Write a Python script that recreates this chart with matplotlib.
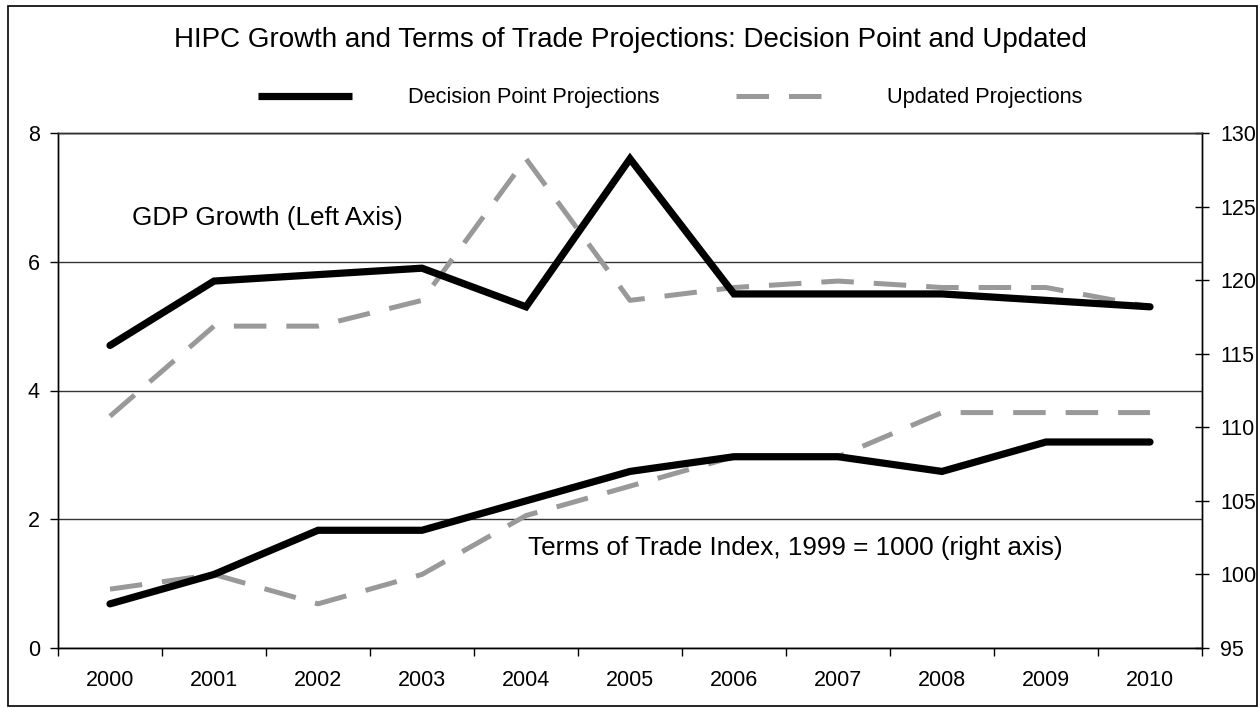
import numpy as np
import matplotlib
matplotlib.use('Agg')
import matplotlib.pyplot as plt
from matplotlib.patches import Rectangle

plt.rcParams['font.family'] = ['Liberation Sans', 'DejaVu Sans']

years = ['2000', '2001', '2002', '2003', '2004', '2005',
         '2006', '2007', '2008', '2009', '2010']

# GDP growth, left axis
gdp_decision = [4.7, 5.7, 5.8, 5.9, 5.3, 7.6, 5.5, 5.5, 5.5, 5.4, 5.3]
gdp_updated = [3.6, 5.0, 5.0, 5.4, 7.6, 5.4, 5.6, 5.7, 5.6, 5.6, 5.3]

# terms of trade index, right axis
tot_decision = [98, 100, 103, 103, 105, 107, 108, 108, 107, 109, 109]
tot_updated = [99, 100, 98, 100, 104, 106, 108, 108, 111, 111, 111]

W, H = 1260, 708
fig = plt.figure(figsize=(W / 100, H / 100), dpi=100)
fig.patch.set_facecolor('white')

# outer frame
fig.patches.append(Rectangle((8 / W, 2 / H), (1257 - 8) / W, (702 - 2) / H,
                             transform=fig.transFigure, fill=False,
                             edgecolor='black', lw=1.2))

ax = fig.add_axes([58 / W, 1 - 648 / H, (1202 - 58) / W, (648 - 133) / H])
ax2 = ax.twinx()

x = np.arange(len(years))
black = dict(color='black', lw=5.2, solid_capstyle='round', solid_joinstyle='miter')
grey = dict(color='#999999', lw=3.6, linestyle=(0, (6.5, 4)), dash_capstyle='butt')

l1, = ax.plot(x, gdp_decision, **black, zorder=4)
l2, = ax.plot(x, gdp_updated, **grey, zorder=3)
ax2.plot(x, tot_decision, **black, zorder=4)
ax2.plot(x, tot_updated, **grey, zorder=3)

ax.set_xlim(-0.5, len(years) - 0.5)
ax.set_ylim(0, 8)
ax.set_yticks([0, 2, 4, 6, 8])
ax.yaxis.grid(True, color='#333333', lw=1.0)
ax.set_axisbelow(True)
ax2.set_ylim(95, 130)
ax2.set_yticks(np.arange(95, 131, 5))

ax.set_xticks(x)
ax.set_xticklabels(years)
ax.set_xticks(np.arange(-0.5, len(years), 1), minor=True)
ax.tick_params(axis='x', which='major', length=0, pad=16, labelsize=15.5)
ax.tick_params(axis='x', which='minor', length=6, width=1, direction='out')
ax.tick_params(axis='y', length=6, width=1, direction='out', pad=7, labelsize=15.5)
ax2.tick_params(axis='y', length=10, width=1, direction='inout', pad=8, labelsize=15.5)

for a in (ax, ax2):
    for s in a.spines.values():
        s.set_linewidth(1.0)
        s.set_color('black')
ax2.spines['top'].set_color('#333333')

ax.text(0.065, 0.835, 'GDP Growth (Left Axis)', transform=ax.transAxes,
        fontsize=18.8, va='center', ha='left')
ax.text(0.411, 0.194, 'Terms of Trade Index, 1999 = 1000 (right axis)',
        transform=ax.transAxes, fontsize=18.8, va='center', ha='left')

fig.text(0.5, 1 - 40 / H,
         'HIPC Growth and Terms of Trade Projections: Decision Point and Updated',
         ha='center', va='center', fontsize=20)

leg = fig.legend([l1, l2], ['Decision Point Projections', 'Updated Projections'],
                 loc='center', bbox_to_anchor=(670 / W, 1 - 98 / H), ncol=2,
                 frameon=False, fontsize=15.7, handlelength=4.3, handletextpad=2.6,
                 columnspacing=3.5)
leg.get_lines()[0].set_solid_capstyle('butt')

fig.savefig('out.png', dpi=100)
